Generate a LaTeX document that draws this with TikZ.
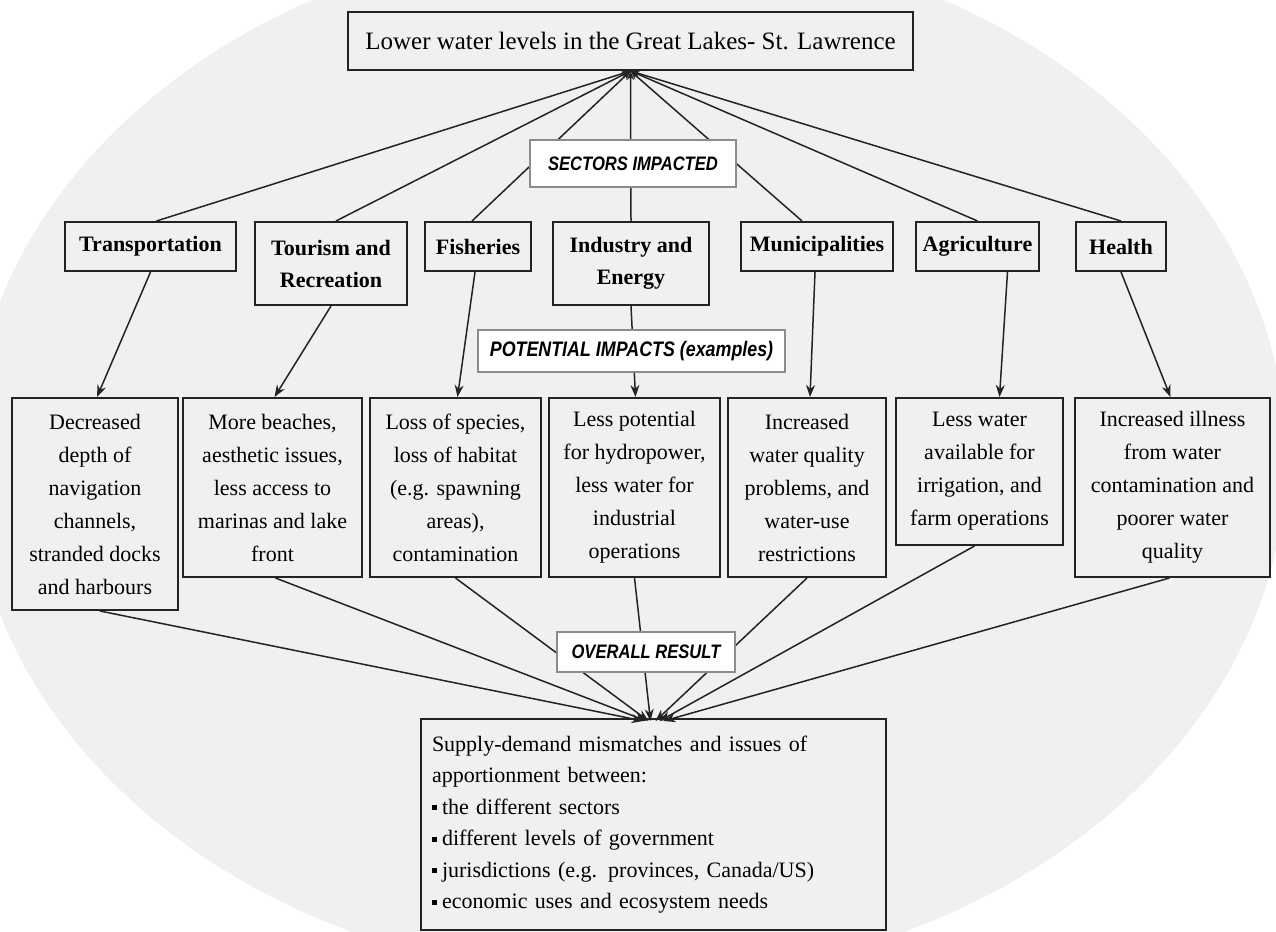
\documentclass[tikz,border=0pt]{standalone}
\usepackage{fontspec}
\setmainfont{Liberation Serif}
\newfontfamily\labfont[FakeStretch=0.85]{Liberation Sans}
\usetikzlibrary{arrows.meta}
\definecolor{bgc}{RGB}{240,240,240}
\definecolor{ink}{RGB}{35,35,35}
\newcommand{\sqbul}{\raisebox{4pt}{\rule{5pt}{5pt}}\hspace{5pt}}
\begin{document}
\begin{tikzpicture}[x=1pt,y=-1pt,
  mainbox/.style={draw=ink, line width=2pt, inner sep=0pt, align=center},
  sector/.style={mainbox, font=\bfseries\fontsize{22}{32}\selectfont},
  impact/.style={mainbox, font=\fontsize{22}{33}\selectfont},
  tag/.style={draw=black!45, line width=1.3pt, fill=white, inner sep=0pt, font=\labfont\bfseries\itshape\fontsize{19.5}{22}\selectfont},
  conn/.style={ink, line width=1.5pt},
  uparr/.style={conn, {Stealth[length=9pt,width=7pt]}-},
  arr/.style={conn, -{Stealth[length=12pt,width=9pt]}},
]
\useasboundingbox (0,0) rectangle (1276,931);
\fill[bgc] (628,458) ellipse [x radius=658pt, y radius=522pt];

% title
\node[mainbox, minimum width=565pt, minimum height=58pt, font=\fontsize{25}{28}\selectfont] (top) at (630.5,41) {Lower water levels in the Great Lakes- St. Lawrence};

% sectors
\node[sector, minimum width=171pt, minimum height=49pt] (s1) at (150.5,246.5) {Transportation};
\node[sector, minimum width=152pt, minimum height=83pt] (s2) at (331,263.5) {Tourism and\\Recreation};
\node[sector, minimum width=106pt, minimum height=49pt] (s3) at (478,246.5) {Fisheries};
\node[sector, minimum width=156pt, minimum height=83pt] (s4) at (631,263.5) {Industry and\\Energy};
\node[sector, minimum width=152pt, minimum height=49pt] (s5) at (817,246.5) {Municipalities};
\node[sector, minimum width=123pt, minimum height=49pt] (s6) at (977.5,246.5) {Agriculture};
\node[sector, minimum width=90pt, minimum height=49pt] (s7) at (1121,246.5) {Health};

% impacts
\node[impact, minimum width=166pt, minimum height=212pt] (i1) at (95,504) {Decreased\\depth of\\navigation\\channels,\\stranded docks\\and harbours};
\node[impact, minimum width=179pt, minimum height=179pt] (i2) at (272.5,487.5) {More beaches,\\aesthetic issues,\\less access to\\marinas and lake\\front};
\node[impact, minimum width=171pt, minimum height=179pt] (i3) at (455.5,487.5) {Loss of species,\\loss of habitat\\(e.g. spawning\\areas),\\contamination};
\node[impact, minimum width=171pt, minimum height=179pt] (i4) at (634.5,487.5) {Less potential\\for hydropower,\\less water for\\industrial\\operations};
\node[impact, minimum width=158pt, minimum height=179pt] (i5) at (807,487.5) {Increased\\water quality\\problems, and\\water-use\\restrictions};
\node[impact, minimum width=167pt, minimum height=147pt] (i6) at (979.5,471.5) {Less water\\available for\\irrigation, and\\farm operations};
\node[impact, minimum width=195pt, minimum height=179pt] (i7) at (1172.5,487.5) {Increased illness\\from water\\contamination and\\poorer water\\quality};

% result
\node[mainbox, align=left, text width=443pt, inner xsep=11pt, minimum height=211pt, font=\fontsize{22}{31.5}\selectfont] (res) at (653.5,824.5) {Supply-demand mismatches and issues of\\apportionment between:\\\sqbul the different sectors\\\sqbul different levels of government\\\sqbul jurisdictions (e.g. provinces, Canada/US)\\\sqbul economic uses and ecosystem needs};

% connectors title -> sectors
\draw[uparr] (top.south) -- ([xshift=6pt]s1.north);
\draw[uparr] (top.south) -- ([xshift=5pt]s2.north);
\draw[uparr] (top.south) -- ([xshift=-6pt]s3.north);
\draw[uparr] (top.south) -- (s4.north);
\draw[uparr] (top.south) -- ([xshift=-15pt]s5.north);
\draw[uparr] (top.south) -- (s6.north);
\draw[uparr] (top.south) -- (s7.north);

% sectors -> impacts
\draw[arr] (s1.south) -- ([xshift=2pt]i1.north);
\draw[arr] (s2.south) -- ([xshift=2pt]i2.north);
\draw[arr] ([xshift=-3pt]s3.south) -- ([xshift=2pt]i3.north);
\draw[arr] (s4.south) -- ([xshift=1pt]i4.north);
\draw[arr] ([xshift=-2pt]s5.south) -- ([xshift=3pt]i5.north);
\draw[arr] ([xshift=30pt]s6.south) -- ([xshift=20pt]i6.north);
\draw[arr] (s7.south) -- ([xshift=-2pt]i7.north);

% impacts -> result
\draw[arr] ([xshift=5pt]i1.south) -- ([xshift=-10pt,yshift=-3pt]res.north);
\draw[arr] ([xshift=3pt]i2.south) -- ([xshift=-7pt,yshift=-3pt]res.north);
\draw[arr] (i3.south) -- ([xshift=-5pt,yshift=-3pt]res.north);
\draw[arr] (i4.south) -- ([xshift=-3pt,yshift=-3pt]res.north);
\draw[arr] (i5.south) -- ([xshift=2pt,yshift=-3pt]res.north);
\draw[arr] ([xshift=-5pt]i6.south) -- ([xshift=6pt,yshift=-3pt]res.north);
\draw[arr] ([xshift=-3pt]i7.south) -- ([xshift=10pt,yshift=-3pt]res.north);

% tag labels (drawn over the connectors)
\node[tag, minimum width=206pt, minimum height=47pt] (tsec) at (633,163.5) {SECTORS IMPACTED};
\node[tag, minimum width=307pt, minimum height=42pt, font=\labfont\bfseries\itshape\fontsize{21}{24}\selectfont] (tpot) at (631.5,351) {POTENTIAL IMPACTS (examples)};
\node[tag, minimum width=178pt, minimum height=40pt] (tres) at (646,652) {OVERALL RESULT};
\end{tikzpicture}
\end{document}
